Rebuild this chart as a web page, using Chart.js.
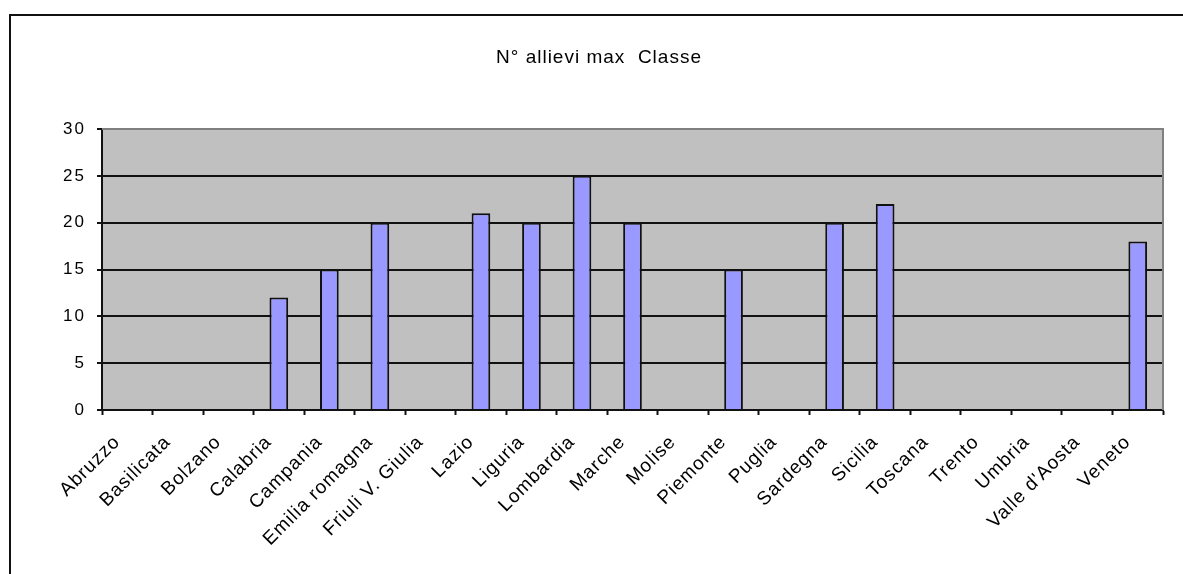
<!DOCTYPE html>
<html>
<head>
<meta charset="utf-8">
<script src="https://cdn.jsdelivr.net/npm/chart.js@4/dist/chart.umd.min.js"></script>
<style>
  html, body { margin: 0; padding: 0; background: #fff; }
  #wrap { position: relative; width: 1183px; height: 574px; overflow: hidden; }
  #frame { position: absolute; left: 9px; top: 14px; width: 1300px; height: 700px;
           border-left: 2px solid #111; border-top: 2px solid #111; box-sizing: border-box; }
  #c { position: absolute; left: 0; top: 0; }
</style>
</head>
<body>
<div id="wrap">
  <div id="frame"></div>
  <canvas id="c" width="1183" height="574"></canvas>
</div>
<script>
const chartTitle = 'N° allievi max  Classe';
const categories = ['Abruzzo', 'Basilicata', 'Bolzano', 'Calabria', 'Campania', 'Emilia romagna',
  'Friuli V. Giulia', 'Lazio', 'Liguria', 'Lombardia', 'Marche', 'Molise', 'Piemonte', 'Puglia',
  'Sardegna', 'Sicilia', 'Toscana', 'Trento', 'Umbria', "Valle d'Aosta", 'Veneto'];
const values = [null, null, null, 12, 15, 20, null, 21, 20, 25, 20, null, 15, null, 20, 22, null, null, null, null, 18];
const yMin = 0, yMax = 30, yStep = 5;

const FONT = "'Liberation Sans', Arial, sans-serif";

function wrapSpacing(obj, method, spacing) {
  if (!obj || obj['__sp_' + method]) return;
  const orig = obj[method];
  obj[method] = function (...args) {
    const ctx = this.ctx;
    const prev = ctx.letterSpacing;
    ctx.letterSpacing = spacing;
    orig.apply(this, args);
    ctx.letterSpacing = prev || '0px';
  };
  obj['__sp_' + method] = true;
}

const plotPlugin = {
  id: 'plotArea',
  beforeDraw(chart) {
    wrapSpacing(chart.scales.x, 'drawLabels', '1px');
    wrapSpacing(chart.scales.y, 'drawLabels', '2px');
    wrapSpacing(chart.titleBlock, 'draw', '1px');
    const { ctx, chartArea: a } = chart;
    ctx.save();
    ctx.fillStyle = '#C0C0C0';
    ctx.fillRect(a.left, a.top, a.right - a.left, a.bottom - a.top);
    ctx.restore();
  },
  beforeDatasetsDraw(chart) {
    const { ctx, chartArea: a } = chart;
    ctx.save();
    ctx.strokeStyle = '#808080';
    ctx.lineWidth = 2;
    ctx.beginPath();
    ctx.moveTo(a.left, a.top);
    ctx.lineTo(a.right, a.top);
    ctx.lineTo(a.right, a.bottom);
    ctx.stroke();
    ctx.restore();
  }
};

new Chart(document.getElementById('c'), {
  type: 'bar',
  data: {
    labels: categories,
    datasets: [{
      data: values,
      backgroundColor: '#9999FF',
      borderColor: '#111',
      borderWidth: 2,
      barPercentage: 0.37,
      categoryPercentage: 1
    }]
  },
  options: {
    responsive: false,
    devicePixelRatio: 1,
    animation: false,
    layout: { padding: { left: 35, right: 20, top: 0, bottom: 0 } },
    plugins: {
      legend: { display: false },
      tooltip: { enabled: false },
      title: {
        display: true,
        text: chartTitle,
        color: '#000',
        font: { family: FONT, size: 19, weight: 'normal', lineHeight: 1.2 },
        padding: { top: 46, bottom: 60.2 }
      }
    },
    scales: {
      x: {
        offset: true,
        grid: { display: true, drawOnChartArea: false, drawTicks: true, tickLength: 5,
                tickColor: '#111', tickWidth: 2, offset: true },
        border: { display: true, color: '#111', width: 2 },
        ticks: {
          autoSkip: false, maxRotation: 45, minRotation: 45,
          labelOffset: -10, padding: 16,
          color: '#000',
          font: { family: FONT, size: 19 }
        },
        afterFit(scale) { scale.height = 164; }
      },
      y: {
        min: yMin, max: yMax,
        grid: {
          drawTicks: true, tickLength: 5, lineWidth: 2, tickWidth: 2, tickColor: '#111',
          color: (c) => (c.tick && c.tick.value === yMax) ? '#808080' : '#111'
        },
        border: { display: true, color: '#111', width: 2 },
        ticks: {
          stepSize: yStep, padding: 11, color: '#000',
          font: { family: FONT, size: 17 }
        },
        afterFit(scale) { scale.width = 67; }
      }
    }
  },
  plugins: [plotPlugin]
});
</script>
</body>
</html>
